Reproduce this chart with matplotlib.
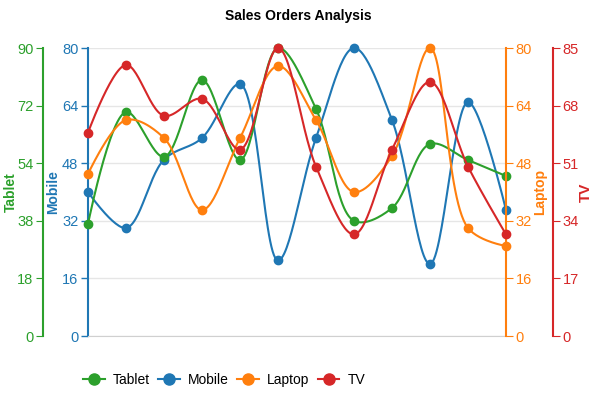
import matplotlib
matplotlib.use("Agg")
import matplotlib.pyplot as plt
from matplotlib.lines import Line2D
import numpy as np

plt.rcParams["font.family"] = ["Liberation Sans", "DejaVu Sans"]

months = ["Jan", "Feb", "Mar", "Apr", "May", "Jun", "Jul", "Aug", "Sep", "Oct", "Nov", "Dec"]
tablet = [35, 70, 56, 80, 55, 90, 71, 36, 40, 60, 55, 50]
mobile = [40, 30, 49, 55, 70, 21, 55, 80, 60, 20, 65, 35]
laptop = [45, 60, 55, 35, 55, 75, 60, 40, 50, 80, 30, 25]
tv = [60, 80, 65, 70, 55, 85, 50, 30, 55, 75, 50, 30]

tablet_ticks = [0, 18, 36, 54, 72, 90]
tablet_ticklabels = ["0", "18", "38", "54", "72", "90"]
mobile_ticks = [0, 16, 32, 48, 64, 80]
laptop_ticks = [0, 16, 32, 48, 64, 80]
tv_ticks = [0, 17, 34, 51, 68, 85]

GREEN, BLUE, ORANGE, RED = "#2ca02c", "#1f77b4", "#ff7f0e", "#d62728"

W, H = 596, 398
L, R, T, B = 88, 506, 48, 336
PW, PH = R - L, B - T


def catmull_rom(xs, ys, alpha=0.5, n=30):
    # centripetal catmull-rom, computed in pixel space
    pts = np.column_stack([xs, ys]).astype(float)
    out = [pts[0]]
    for i in range(len(pts) - 1):
        p0 = pts[i - 1] if i > 0 else pts[i]
        p1, p2 = pts[i], pts[i + 1]
        p3 = pts[i + 2] if i + 2 < len(pts) else pts[i + 1]
        d01, d12, d23 = (np.hypot(*(p1 - p0)), np.hypot(*(p2 - p1)),
                         np.hypot(*(p3 - p2)))
        l01a, l12a, l23a = d01 ** alpha, d12 ** alpha, d23 ** alpha
        l01_2a, l12_2a, l23_2a = d01 ** (2 * alpha), d12 ** (2 * alpha), d23 ** (2 * alpha)
        c1, c2 = p1.copy(), p2.copy()
        if l01a > 1e-12:
            a = 2 * l01_2a + 3 * l01a * l12a + l12_2a
            nn = 3 * l01a * (l01a + l12a)
            c1 = (p1 * a - p0 * l12_2a + p2 * l01_2a) / nn
        if l23a > 1e-12:
            b = 2 * l23_2a + 3 * l23a * l12a + l12_2a
            m = 3 * l23a * (l23a + l12a)
            c2 = (p2 * b + p1 * l23_2a - p3 * l12_2a) / m
        t = np.linspace(0, 1, n)[1:, None]
        seg = ((1 - t) ** 3 * p1 + 3 * (1 - t) ** 2 * t * c1
               + 3 * (1 - t) * t ** 2 * c2 + t ** 3 * p2)
        out.extend(seg)
    out = np.array(out)
    return out[:, 0], out[:, 1]


fig = plt.figure(figsize=(W / 100, H / 100), dpi=100)
fig.patch.set_facecolor("white")
rect = [L / W, 1 - B / H, PW / W, PH / H]
ax = fig.add_axes(rect)
ax_tab = ax.twinx()
ax_lap = ax.twinx()
ax_tv = ax.twinx()

x = np.arange(len(months))
step = PW / (len(months) - 1)

series = [
    (ax_tab, tablet, 90, GREEN, "Tablet"),
    (ax, mobile, 80, BLUE, "Mobile"),
    (ax_lap, laptop, 80, ORANGE, "Laptop"),
    (ax_tv, tv, 85, RED, "TV"),
]

for a in [ax, ax_tab, ax_lap, ax_tv]:
    a.set_xlim(0, len(months) - 1)
    for s in a.spines.values():
        s.set_visible(False)
    a.patch.set_visible(False)

for a, vals, vmax, col, name in series:
    a.set_ylim(0, vmax)
    px = x * step
    py = np.array(vals) / vmax * PH
    sx, sy = catmull_rom(px, py)
    a.plot(sx / step, sy / PH * vmax, color=col, lw=1.5, clip_on=False, zorder=3)
    a.plot(x, vals, "o", color=col, ms=6, clip_on=False, zorder=4)


def place_label(a, text, col, px, size=10):
    a.set_ylabel(text, color=col, fontsize=size, fontweight="bold")
    a.yaxis.set_label_coords((px - L) / PW, 0.5)
    a.yaxis.label.set_verticalalignment("center")
    a.yaxis.label.set_horizontalalignment("center")


# left main axis: Mobile
ax.spines["left"].set_visible(True)
ax.spines["left"].set_color(BLUE)
ax.spines["left"].set_linewidth(1.5)
ax.spines["bottom"].set_visible(True)
ax.spines["bottom"].set_color("#d0d0d0")
ax.set_yticks(mobile_ticks)
ax.tick_params(axis="y", colors=BLUE, labelsize=10.5, length=5, width=1, pad=2)
ax.yaxis.grid(True, color="#e6e6e6", lw=1)
ax.set_axisbelow(True)
ax.set_xticks(x)
ax.set_xticklabels(months)
ax.tick_params(axis="x", colors="#aaaaaa", labelcolor="black", labelsize=8.5,
               length=5, pad=2)
place_label(ax, "Mobile", BLUE, 53)

# outer left: Tablet
ax_tab.yaxis.set_ticks_position("left")
ax_tab.yaxis.set_label_position("left")
ax_tab.spines["left"].set_visible(True)
ax_tab.spines["left"].set_position(("outward", 45 * 0.72))
ax_tab.spines["left"].set_color(GREEN)
ax_tab.spines["left"].set_linewidth(1.5)
ax_tab.set_yticks(tablet_ticks)
ax_tab.set_yticklabels(tablet_ticklabels)
ax_tab.tick_params(axis="y", colors=GREEN, labelsize=10.5, length=5, pad=2)
ax_tab.set_xticks([])
place_label(ax_tab, "Tablet", GREEN, 11)

# inner right: Laptop
ax_lap.spines["right"].set_visible(True)
ax_lap.spines["right"].set_color(ORANGE)
ax_lap.spines["right"].set_linewidth(1.5)
ax_lap.set_yticks(laptop_ticks)
ax_lap.tick_params(axis="y", colors=ORANGE, labelsize=10.5, length=5, pad=2)
ax_lap.set_xticks([])
place_label(ax_lap, "Laptop", ORANGE, 540)

# outer right: TV
ax_tv.spines["right"].set_visible(True)
ax_tv.spines["right"].set_position(("outward", 47 * 0.72))
ax_tv.spines["right"].set_color(RED)
ax_tv.spines["right"].set_linewidth(1.5)
ax_tv.set_yticks(tv_ticks)
ax_tv.tick_params(axis="y", colors=RED, labelsize=10.5, length=5, pad=2)
ax_tv.set_xticks([])
place_label(ax_tv, "TV", RED, 586, size=11)

fig.text(0.5, 1 - 16 / H, "Sales Orders Analysis", ha="center", va="center",
         fontsize=10, fontweight="bold")

handles = [Line2D([], [], color=c, lw=1.5, marker="o", ms=8) for _, _, _, c, _ in series]
labels = [n for _, _, _, _, n in series]
fig.legend(handles, labels, loc="center left", bbox_to_anchor=(83 / W, 1 - 380 / H),
           ncol=4, frameon=False, fontsize=10, handlelength=1.55,
           handletextpad=0.6, columnspacing=0.6, borderpad=0, borderaxespad=0)

fig.savefig("out.png", dpi=100, facecolor="white")
